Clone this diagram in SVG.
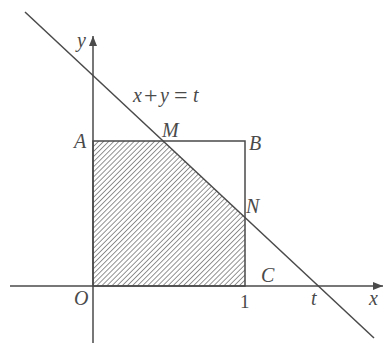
<svg xmlns="http://www.w3.org/2000/svg" width="386" height="343" viewBox="0 0 386 343">
<defs>
<pattern id="hatch" patternUnits="userSpaceOnUse" width="3.6" height="3.6" patternTransform="rotate(45)">
<line x1="0" y1="0" x2="0" y2="3.6" stroke="#666" stroke-width="1.4"/>
</pattern>
<marker id="arr" viewBox="0 0 10 8" refX="10" refY="4" markerWidth="10" markerHeight="8" markerUnits="userSpaceOnUse" orient="auto">
<path d="M0,0 L10,4 L0,8 Z" fill="#4a4a4a"/>
</marker>
<style>
.ln{stroke:#4a4a4a;stroke-width:1.5;fill:none}
.lb{font-family:"Liberation Serif","Times New Roman",serif;font-style:italic;font-size:20px;fill:#4a4a4a}
.op{font-family:"Liberation Serif","Times New Roman",serif;font-style:normal;font-size:24px;fill:#4a4a4a}
.num{font-family:"Liberation Serif","Times New Roman",serif;font-size:19px;fill:#4a4a4a}
</style>
</defs>
<rect width="386" height="343" fill="#fff"/>
<g id="region">
<polygon points="93,141 164,141 245,217 245,286 93,286" fill="url(#hatch)"/>
</g>
<g id="square">
<rect x="93" y="141" width="152" height="145" class="ln"/>
</g>
<g id="connectors">
<line x1="10" y1="286" x2="383" y2="286" class="ln" marker-end="url(#arr)"/>
<line x1="93" y1="343" x2="93" y2="36" class="ln" marker-end="url(#arr)"/>
<line x1="25" y1="12" x2="374" y2="338" class="ln"/>
</g>
<g id="labels">
<text x="77" y="47" class="lb">y</text>
<text x="369" y="305" class="lb">x</text>
<text y="102" class="lb"><tspan x="133">x</tspan><tspan x="144" y="103" class="op">+</tspan><tspan x="160" y="102">y</tspan><tspan x="174" y="103" class="op">=</tspan><tspan x="193" y="102">t</tspan></text>
<text x="162" y="137" class="lb">M</text>
<text x="74" y="148" class="lb">A</text>
<text x="249" y="150" class="lb">B</text>
<text x="246" y="213" class="lb">N</text>
<text x="261" y="282" class="lb">C</text>
<text x="74" y="305" class="lb">O</text>
<text x="311" y="305" class="lb">t</text>
<text x="240" y="308" class="num">1</text>
</g>
</svg>
